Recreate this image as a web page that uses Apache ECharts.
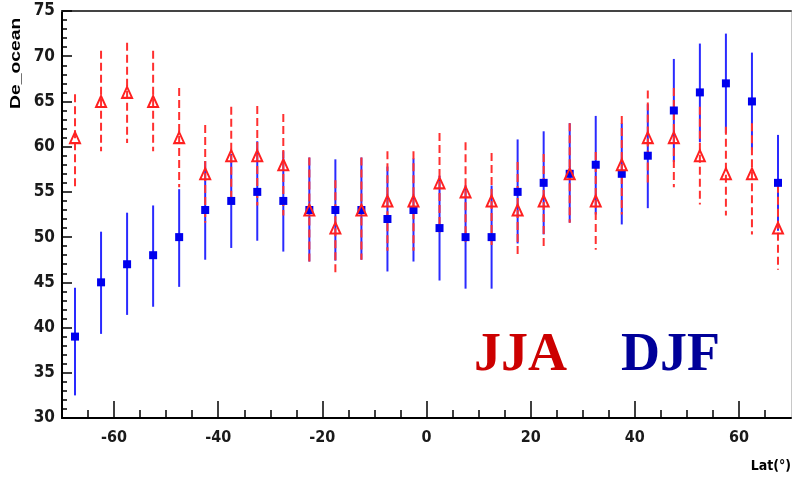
<!DOCTYPE html>
<html>
<head>
<meta charset="utf-8">
<script src="https://cdn.jsdelivr.net/npm/echarts@6/dist/echarts.min.js"></script>
<style>
html,body{margin:0;padding:0;background:#fff;}
#chart{width:792px;height:481px;}
</style>
</head>
<body>
<div id="chart"></div>
<script>
// Latitude bin centres (degrees)
const lats = [-67.5,-62.5,-57.5,-52.5,-47.5,-42.5,-37.5,-32.5,-27.5,-22.5,-17.5,-12.5,-7.5,-2.5,
              2.5,7.5,12.5,17.5,22.5,27.5,32.5,37.5,42.5,47.5,52.5,57.5,62.5,67.5];
// JJA (red triangles)
const jjaVal  = [61,65,66,65,61,57,59,59,58,53,51,53,54,54,56,55,54,53,54,57,54,58,61,61,59,57,57,51];
const jjaLow  = [55.3,59.5,60.4,59.5,55.5,51.6,53.6,53.5,52.4,47.3,45.7,47.5,48.5,48.5,50.5,49.5,48.7,47.7,48.8,51.6,48.6,52.5,55.8,55.5,53.6,52.4,50.3,46.4];
const jjaHigh = [65.8,70.6,71.5,70.6,66.5,62.4,64.4,64.5,63.6,58.8,56.3,58.8,59.5,59.5,61.5,60.5,59.3,58.3,59.2,62.6,59.4,63.4,66.2,66.5,64.4,62.2,62.6,55.8];
// DJF (blue squares)
const djfVal  = [39,45,47,48,50,53,54,55,54,53,53,53,52,53,51,50,50,55,56,57,58,57,59,64,66,67,65,56];
const djfLow  = [32.5,39.3,41.4,42.3,44.5,47.5,48.8,49.6,48.4,47.3,47.4,47.5,46.2,47.3,45.2,44.3,44.3,49.3,50.3,51.6,52.5,51.4,53.2,58.3,60.5,61.5,59.6,50.7];
const djfHigh = [44.4,50.6,52.7,53.5,55.3,58.4,59.2,60.6,59.5,58.8,58.6,58.8,57.8,58.7,56.8,55.7,55.7,60.8,61.7,62.6,63.4,62.6,64.7,69.7,71.4,72.5,70.4,61.3];
// Axis ticks
const xMajorTicks = [-60,-40,-20,0,20,40,60];
const xMinorTicks = [-65,-55,-50,-45,-35,-30,-25,-15,-10,-5,5,10,15,25,30,35,45,50,55,65];

const chart = echarts.init(document.getElementById('chart'));

function errData(low, high){ return lats.map((x,i)=>[x, low[i], high[i]]); }
function errRender(color, dash){
  return function(params, api){
    const top = api.coord([api.value(0), api.value(2)]);
    const bot = api.coord([api.value(0), api.value(1)]);
    return {
      type:'line',
      shape:{x1:top[0], y1:top[1], x2:bot[0], y2:bot[1]},
      style:{stroke:color, lineWidth:2, lineDash:dash}
    };
  };
}
const narrow = '"Liberation Sans Narrow","DejaVu Sans Condensed","Arial Narrow","Liberation Sans",Arial,sans-serif';
const labelFont = {fontFamily:narrow, fontWeight:'bold', color:'#1a1a1a'};

chart.setOption({
  animation:false,
  backgroundColor:'#fff',
  grid:{left:62, right:1, top:11, bottom:63},
  xAxis:[
    {type:'value', min:-70, max:70, position:'bottom',
     axisLine:{show:true, onZero:false, lineStyle:{color:'#000', width:2}},
     axisTick:{show:true, inside:true, length:17, customValues:xMajorTicks, lineStyle:{color:'#000', width:1.5}},
     axisLabel:Object.assign({show:true, customValues:xMajorTicks, fontSize:16, margin:12}, labelFont),
     splitLine:{show:false}},
    {type:'value', min:-70, max:70, position:'bottom',
     axisLine:{show:false},
     axisTick:{show:true, inside:true, length:8, customValues:xMinorTicks, lineStyle:{color:'#000', width:1.5}},
     axisLabel:{show:false}, splitLine:{show:false}},
    {type:'value', min:-70, max:70, position:'top',
     axisLine:{show:true, onZero:false, lineStyle:{color:'#444', width:2}},
     axisTick:{show:false}, axisLabel:{show:false}, splitLine:{show:false}}
  ],
  yAxis:[
    {type:'value', min:30, max:75, interval:5, position:'left',
     axisLine:{show:true, onZero:false, lineStyle:{color:'#000', width:2}},
     axisTick:{show:true, inside:true, length:10, lineStyle:{color:'#000', width:1.5}},
     minorTick:{show:true, splitNumber:5, length:5, lineStyle:{color:'#000', width:1.5}},
     axisLabel:Object.assign({show:true, fontSize:17, margin:7}, labelFont),
     splitLine:{show:false}},
    {type:'value', min:30, max:75, position:'right',
     axisLine:{show:true, onZero:false, lineStyle:{color:'#c8c8c8', width:1}},
     axisTick:{show:false}, axisLabel:{show:false}, splitLine:{show:false}}
  ],
  series:[
    {type:'custom', name:'DJF err', xAxisIndex:0, yAxisIndex:0, data:errData(djfLow, djfHigh),
     renderItem:errRender('#2a2aff', null), z:2},
    {type:'custom', name:'JJA err', xAxisIndex:0, yAxisIndex:0, data:errData(jjaLow, jjaHigh),
     renderItem:errRender('#ff3030', [8,4]), z:3},
    {type:'scatter', name:'DJF', xAxisIndex:0, yAxisIndex:0,
     data:lats.map((x,i)=>[x, djfVal[i]]),
     symbol:'rect', symbolSize:8, itemStyle:{color:'#0000ee', opacity:1}, z:4},
    {type:'scatter', name:'JJA', xAxisIndex:0, yAxisIndex:0,
     data:lats.map((x,i)=>[x, jjaVal[i]]),
     symbol:'triangle', symbolSize:[10,11],
     itemStyle:{color:'rgba(255,255,255,0)', borderColor:'#ff2020', borderWidth:2, opacity:1}, z:5}
  ],
  graphic:[
    {type:'text', x:23, y:109, rotation:Math.PI/2, scaleX:1.38, scaleY:1,
     style:{text:'De_ocean', fontFamily:'"Liberation Sans",Arial,sans-serif', fontWeight:'bold', fontSize:14,
            fill:'#000', textAlign:'left', textVerticalAlign:'bottom'}},
    {type:'text', x:791, y:459,
     style:{text:'Lat(°)', fontFamily:narrow, fontWeight:'bold', fontSize:14,
            fill:'#000', textAlign:'right', textVerticalAlign:'top'}},
    {type:'text', x:474, y:356,
     style:{text:'JJA', fontFamily:'"Liberation Serif","Times New Roman",serif', fontWeight:'bold', fontSize:54,
            fill:'#cc0000', textAlign:'left', textVerticalAlign:'middle'}},
    {type:'text', x:621, y:356,
     style:{text:'DJF', fontFamily:'"Liberation Serif","Times New Roman",serif', fontWeight:'bold', fontSize:54,
            fill:'#000099', textAlign:'left', textVerticalAlign:'middle'}}
  ]
});
</script>
</body>
</html>
